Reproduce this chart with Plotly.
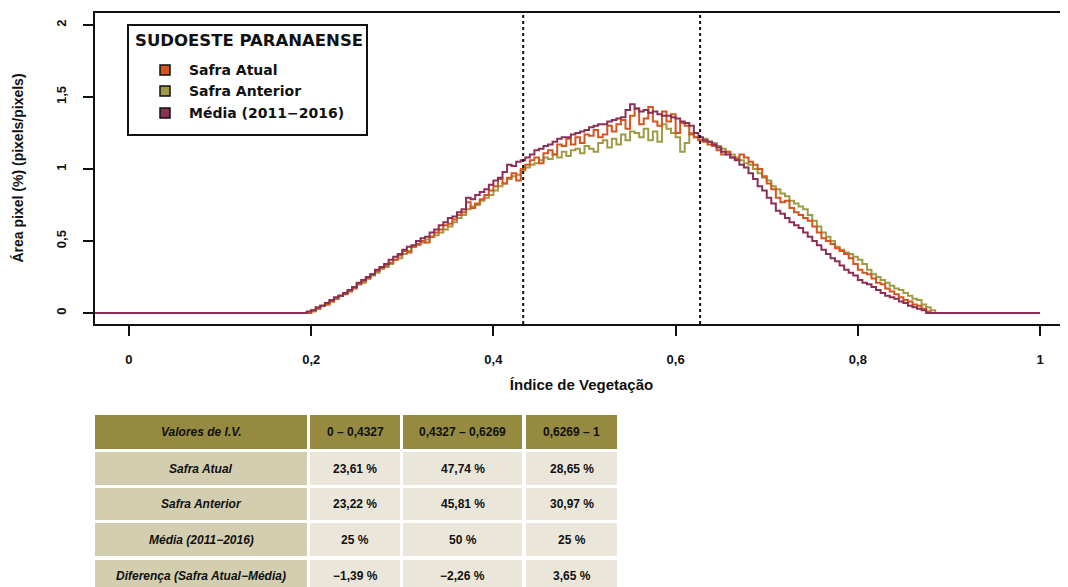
import numpy as np
import plotly.graph_objects as go

# ---------------- data ----------------
iv_start, iv_step = 0.19, 0.005   # bin positions of the vegetation-index histogram

safra_atual = [
    0.00, 0.00, 0.02, 0.03, 0.05, 0.06, 0.08, 0.10, 0.12, 0.13,
    0.15, 0.17, 0.20, 0.22, 0.24, 0.27, 0.29, 0.31, 0.33, 0.35,
    0.37, 0.40, 0.43, 0.42, 0.46, 0.48, 0.50, 0.49, 0.53, 0.56,
    0.58, 0.61, 0.62, 0.65, 0.68, 0.70, 0.77, 0.73, 0.76, 0.79,
    0.82, 0.85, 0.88, 0.93, 0.90, 0.94, 0.97, 0.92, 1.00, 1.03,
    1.06, 1.08, 1.04, 1.11, 1.13, 1.10, 1.17, 1.16, 1.21, 1.17,
    1.22, 1.18, 1.24, 1.23, 1.27, 1.22, 1.24, 1.30, 1.26, 1.31,
    1.34, 1.28, 1.37, 1.42, 1.31, 1.35, 1.43, 1.33, 1.30, 1.40,
    1.33, 1.38, 1.25, 1.32, 1.30, 1.24, 1.22, 1.20, 1.19, 1.17,
    1.16, 1.13, 1.10, 1.12, 1.08, 1.07, 1.10, 1.08, 1.05, 1.03,
    1.00, 0.95, 0.90, 0.86, 0.80, 0.77, 0.78, 0.73, 0.70, 0.68,
    0.66, 0.64, 0.60, 0.56, 0.52, 0.50, 0.48, 0.45, 0.43, 0.41,
    0.38, 0.34, 0.30, 0.28, 0.27, 0.24, 0.21, 0.20, 0.17, 0.15,
    0.13, 0.11, 0.09, 0.08, 0.06, 0.05, 0.03, 0.01, 0.00, 0.00,
    0.00,
]

safra_anterior = [
    0.00, 0.00, 0.01, 0.03, 0.05, 0.06, 0.08, 0.10, 0.12, 0.14,
    0.16, 0.18, 0.20, 0.21, 0.24, 0.26, 0.28, 0.31, 0.32, 0.34,
    0.37, 0.38, 0.41, 0.43, 0.46, 0.47, 0.49, 0.51, 0.53, 0.54,
    0.56, 0.58, 0.60, 0.63, 0.66, 0.68, 0.72, 0.74, 0.75, 0.78,
    0.80, 0.82, 0.85, 0.88, 0.90, 0.93, 0.95, 0.96, 0.99, 1.01,
    1.03, 1.04, 1.06, 1.08, 1.07, 1.10, 1.08, 1.12, 1.09, 1.13,
    1.14, 1.11, 1.16, 1.14, 1.12, 1.18, 1.20, 1.15, 1.21, 1.17,
    1.24, 1.20, 1.26, 1.25, 1.22, 1.28, 1.20, 1.26, 1.19, 1.31,
    1.28, 1.25, 1.22, 1.12, 1.18, 1.25, 1.22, 1.20, 1.21, 1.19,
    1.18, 1.16, 1.14, 1.12, 1.10, 1.08, 1.06, 1.04, 1.03, 1.00,
    0.97, 0.94, 0.92, 0.88, 0.86, 0.83, 0.81, 0.78, 0.76, 0.74,
    0.72, 0.68, 0.64, 0.60, 0.56, 0.53, 0.50, 0.46, 0.44, 0.42,
    0.41, 0.39, 0.37, 0.34, 0.30, 0.27, 0.25, 0.23, 0.21, 0.19,
    0.17, 0.16, 0.14, 0.12, 0.10, 0.09, 0.06, 0.04, 0.02, 0.00,
    0.00,
]

media = [
    0.00, 0.01, 0.02, 0.04, 0.05, 0.07, 0.09, 0.11, 0.12, 0.14,
    0.16, 0.18, 0.21, 0.23, 0.25, 0.27, 0.30, 0.32, 0.34, 0.37,
    0.39, 0.41, 0.44, 0.46, 0.47, 0.50, 0.52, 0.53, 0.56, 0.58,
    0.61, 0.63, 0.66, 0.67, 0.70, 0.72, 0.80, 0.79, 0.82, 0.84,
    0.86, 0.89, 0.92, 0.94, 0.98, 1.03, 1.02, 1.05, 1.06, 1.08,
    1.10, 1.13, 1.14, 1.16, 1.17, 1.19, 1.21, 1.22, 1.22, 1.24,
    1.25, 1.26, 1.27, 1.29, 1.30, 1.31, 1.31, 1.33, 1.34, 1.35,
    1.36, 1.41, 1.45, 1.42, 1.40, 1.41, 1.39, 1.40, 1.38, 1.37,
    1.37, 1.36, 1.35, 1.33, 1.32, 1.30, 1.25, 1.22, 1.20, 1.19,
    1.17, 1.15, 1.12, 1.10, 1.08, 1.06, 1.03, 1.01, 0.97, 0.93,
    0.88, 0.85, 0.80, 0.76, 0.71, 0.69, 0.66, 0.63, 0.61, 0.59,
    0.56, 0.53, 0.50, 0.47, 0.44, 0.41, 0.38, 0.36, 0.33, 0.30,
    0.28, 0.26, 0.23, 0.21, 0.20, 0.18, 0.16, 0.14, 0.12, 0.11,
    0.10, 0.08, 0.07, 0.05, 0.04, 0.03, 0.02, 0.00, 0.00, 0.00,
    0.00,
]

limites_iv = [0.4327, 0.6269]

x_tick_vals = [0, 0.2, 0.4, 0.6, 0.8, 1]
x_tick_text = ["0", "0,2", "0,4", "0,6", "0,8", "1"]
y_tick_vals = [0, 0.5, 1, 1.5, 2]
y_tick_text = ["0", "0,5", "1", "1,5", "2"]

serie_nomes = ["Safra Atual", "Safra Anterior", "Média (2011−2016)"]
serie_cores = ["#D4561E", "#A09A45", "#8A3057"]
regiao = "SUDOESTE PARANAENSE"

tabela_cabecalho = ["Valores de I.V.", "0 – 0,4327", "0,4327 – 0,6269", "0,6269 – 1"]
tabela_linhas = ["Safra Atual", "Safra Anterior", "Média (2011−2016)",
                 "Diferença (Safra Atual−Média)"]
faixa_1 = ["23,61 %", "23,22 %", "25 %", "−1,39 %"]
faixa_2 = ["47,74 %", "45,81 %", "50 %", "−2,26 %"]
faixa_3 = ["28,65 %", "30,97 %", "25 %", "3,65 %"]

# ---------------- figure ----------------
OFF = 8                      # page body margin of the html page
W, H = 1068 - OFF, 587 - OFF
ML, MT = 95 - OFF, 13 - OFF
PLOT_BOTTOM = 324 - OFF
MR, MB = 0, H - PLOT_BOTTOM
PW, PH = W - ML - MR, H - MT - MB


def px(p):   # page pixel -> paper x
    return (p - OFF - ML) / PW


def py(p):   # page pixel -> paper y
    return (PLOT_BOTTOM - (p - OFF)) / PH


iv = np.round(iv_start + iv_step * np.arange(len(media)), 4)
fig = go.Figure()

order = [1, 0, 2]  # draw Anterior, Atual, then Média on top
series = [safra_atual, safra_anterior, media]
for k in order:
    xs = [-0.1] + list(iv) + [1.0]
    ys = [0.0] + list(series[k]) + [0.0]
    fig.add_trace(go.Scatter(x=xs, y=ys, mode="lines", line_shape="hv",
                             line=dict(color=serie_cores[k], width=2),
                             name=serie_nomes[k], showlegend=False,
                             hoverinfo="skip"))

shapes = []
for v in limites_iv:
    shapes.append(dict(type="line", xref="x", yref="paper", x0=v, x1=v, y0=0, y1=1,
                       line=dict(color="#111", width=2, dash="dot")))

# legend box
shapes.append(dict(type="rect", xref="paper", yref="paper",
                   x0=px(128), x1=px(367), y0=py(135), y1=py(25),
                   line=dict(color="#111", width=2), fillcolor="white", layer="above"))
annotations = []
annotations.append(dict(xref="paper", yref="paper", x=px(133), y=py(40), text=regiao,
                        showarrow=False, xanchor="left", yanchor="middle",
                        font=dict(family="DejaVu Sans", size=16.5, color="#111",
                                  weight="bold")))
item_y = [70, 91, 113]
for k in range(3):
    shapes.append(dict(type="rect", xref="paper", yref="paper",
                       x0=px(160), x1=px(170), y0=py(item_y[k] + 5), y1=py(item_y[k] - 5),
                       line=dict(color="#111", width=1.5), fillcolor=serie_cores[k],
                       layer="above"))
    annotations.append(dict(xref="paper", yref="paper", x=px(187), y=py(item_y[k]),
                            text=serie_nomes[k], showarrow=False, xanchor="left",
                            yanchor="middle",
                            font=dict(family="DejaVu Sans", size=14, color="#111",
                                      weight="bold")))

# y-axis title
annotations.append(dict(xref="paper", yref="paper", x=px(17), y=0.5,
                        text="Área pixel (%) (pixels/pixels)", textangle=-90,
                        showarrow=False, xanchor="center", yanchor="middle",
                        font=dict(family="Liberation Sans", size=14, color="#111",
                                  weight="bold")))

# table
col_edges = [(95, 307), (310, 400), (403, 522), (526, 617)]
row_edges = [(415, 449), (452, 485), (488, 520), (523, 556), (560, 593)]
c_head, c_first, c_body = "#958A40", "#D4CEB0", "#EAE7DA"
table_cols = [tabela_linhas, faixa_1, faixa_2, faixa_3]
for r, (y0, y1) in enumerate(row_edges):
    for c, (x0, x1) in enumerate(col_edges):
        if r == 0:
            fill = c_head
            txt = tabela_cabecalho[c]
        else:
            fill = c_first if c == 0 else c_body
            txt = table_cols[c][r - 1]
        italic = (c == 0)
        shapes.append(dict(type="rect", xref="paper", yref="paper",
                           x0=px(x0), x1=px(x1), y0=py(y1), y1=py(y0),
                           line=dict(width=0), fillcolor=fill))
        ty = (y0 + y1) / 2 if r < 4 else 576
        annotations.append(dict(xref="paper", yref="paper",
                                x=px((x0 + x1) / 2), y=py(ty),
                                text=f"<i>{txt}</i>" if italic else txt,
                                showarrow=False, xanchor="center", yanchor="middle",
                                font=dict(family="Liberation Sans", size=12, color="#111",
                                          weight="bold")))

fig.update_layout(
    width=W, height=H,
    margin=dict(l=ML, r=MR, t=MT, b=MB, pad=0),
    paper_bgcolor="white", plot_bgcolor="white",
    shapes=shapes, annotations=annotations,
    showlegend=False,
    font=dict(family="Liberation Sans", color="#111"),
)
fig.update_xaxes(range=[-0.0373, 1.0307], showgrid=False, zeroline=False,
                 showline=True, linecolor="#111", linewidth=2, mirror=True,
                 ticks="outside", ticklen=10, tickwidth=2, tickcolor="#111",
                 tickvals=x_tick_vals, ticktext=x_tick_text, ticklabelstandoff=12,
                 tickfont=dict(family="Liberation Sans", size=13, color="#111", weight="bold"),
                 title=dict(text="Índice de Vegetação", standoff=14,
                            font=dict(family="Liberation Sans", size=15, color="#111",
                                      weight="bold")))
fig.update_yaxes(range=[-0.076, 2.083], showgrid=False, zeroline=False,
                 showline=True, linecolor="#111", linewidth=2, mirror=False,
                 ticks="outside", ticklen=10, tickwidth=2, tickcolor="#111",
                 tickvals=y_tick_vals, ticktext=y_tick_text, tickangle=-90,
                 ticklabelstandoff=12,
                 tickfont=dict(family="Liberation Sans", size=13, color="#111", weight="bold"))

fig.write_html("out.html")
